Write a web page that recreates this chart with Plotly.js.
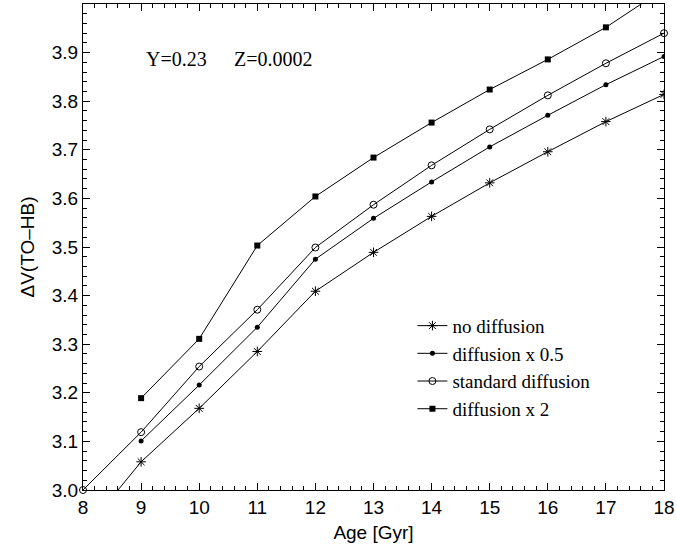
<!DOCTYPE html>
<html>
<head>
<meta charset="utf-8">
<script src="https://cdn.plot.ly/plotly-3.0.1.min.js"></script>
<style>html,body{margin:0;padding:0;background:#fff;}#chart{width:677px;height:552px;}</style>
</head>
<body>
<div id="chart"></div>
<script>
// Ages (Gyr)
const ageNoDiff  = [8, 9, 10, 11, 12, 13, 14, 15, 16, 17, 18];
const noDiffusion = [2.912, 3.058, 3.168, 3.285, 3.409, 3.489, 3.563, 3.632, 3.696, 3.758, 3.814];

const ageHalf = [9, 10, 11, 12, 13, 14, 15, 16, 17, 18];
const diffusionHalf = [3.101, 3.216, 3.335, 3.475, 3.559, 3.634, 3.706, 3.771, 3.834, 3.892];

const ageStd = [8, 9, 10, 11, 12, 13, 14, 15, 16, 17, 18];
const standardDiffusion = [3.000, 3.119, 3.254, 3.371, 3.499, 3.587, 3.668, 3.742, 3.812, 3.878, 3.940];

const ageTwo = [9, 10, 11, 12, 13, 14, 15, 16, 17, 18];
const diffusionTwo = [3.189, 3.311, 3.503, 3.604, 3.684, 3.756, 3.824, 3.886, 3.952, 4.031];

const seriesNames = ["no diffusion", "diffusion x 0.5", "standard diffusion", "diffusion x 2"];
const xTicks = [8, 9, 10, 11, 12, 13, 14, 15, 16, 17, 18];
const yTicks = [3.0, 3.1, 3.2, 3.3, 3.4, 3.5, 3.6, 3.7, 3.8, 3.9];

const SERIF = "'Liberation Serif', 'Times New Roman', Times, serif";
const SANS = "'Liberation Sans', Arial, Helvetica, sans-serif";
const lineStyle = {color: "black", width: 1};

const traces = [
  {x: ageNoDiff, y: noDiffusion, name: seriesNames[0], mode: "lines+markers", line: lineStyle,
   marker: {symbol: "asterisk-open", size: 8, color: "black", line: {color: "black", width: 1}}},
  {x: ageHalf, y: diffusionHalf, name: seriesNames[1], mode: "lines+markers", line: lineStyle,
   marker: {symbol: "circle", size: 5, color: "black"}},
  {x: ageStd, y: standardDiffusion, name: seriesNames[2], mode: "lines+markers", line: lineStyle,
   cliponaxis: false,
   marker: {symbol: "circle-open", size: 7, color: "black", line: {color: "black", width: 1}}},
  {x: ageTwo, y: diffusionTwo, name: seriesNames[3], mode: "lines+markers", line: lineStyle,
   marker: {symbol: "square", size: 6, color: "black"}}
];

const axisCommon = {
  showgrid: false, zeroline: false, showline: true, linecolor: "black", linewidth: 1,
  mirror: "allticks", ticks: "inside", ticklen: 7, tickwidth: 1, tickcolor: "black",
  tickfont: {family: SANS, size: 19, color: "black"}
};

const layout = {
  width: 677, height: 552,
  margin: {l: 83, r: 13, t: 4, b: 62},
  paper_bgcolor: "white", plot_bgcolor: "white",
  font: {family: SANS, color: "black"},
  xaxis: Object.assign({}, axisCommon, {
    range: [8, 18], tickmode: "array", tickvals: xTicks,
    minor: {tickmode: "linear", tick0: 8, dtick: 0.2, ticks: "inside", ticklen: 4, tickcolor: "black", tickwidth: 1},
    title: {text: "Age [Gyr]", font: {size: 19, family: SANS}, standoff: 8}
  }),
  yaxis: Object.assign({}, axisCommon, {
    range: [3, 4], tickmode: "array", tickvals: yTicks, tickformat: ".1f",
    minor: {tickmode: "linear", tick0: 3, dtick: 0.02, ticks: "inside", ticklen: 4, tickcolor: "black", tickwidth: 1},
    title: {text: "ΔV(TO–HB)", font: {size: 19, family: SANS}, standoff: 12}
  }),
  showlegend: true,
  legend: {
    x: 0.567, y: 0.377, xanchor: "left", yanchor: "top",
    bgcolor: "rgba(0,0,0,0)", borderwidth: 0,
    font: {family: SERIF, size: 19, color: "black"},
    tracegroupgap: 0
  },
  annotations: [
    {text: "Y=0.23", xref: "paper", yref: "paper", x: 0.105, y: 0.887, xanchor: "left", yanchor: "middle",
     showarrow: false, font: {family: SERIF, size: 20, color: "black"}},
    {text: "Z=0.0002", xref: "paper", yref: "paper", x: 0.2565, y: 0.887, xanchor: "left", yanchor: "middle",
     showarrow: false, font: {family: SERIF, size: 20, color: "black"}}
  ]
};

Plotly.newPlot("chart", traces, layout, {displayModeBar: false, staticPlot: true});
</script>
</body>
</html>
